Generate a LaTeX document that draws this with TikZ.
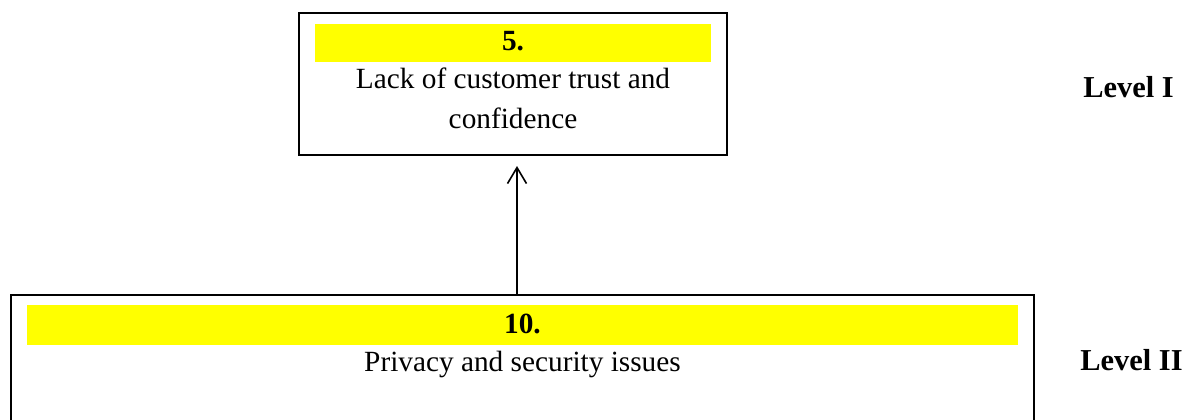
\documentclass[tikz,border=0pt]{standalone}
\usepackage{fontspec}
\setmainfont{Liberation Serif}
\usetikzlibrary{arrows.meta}
\definecolor{hl}{RGB}{255,255,0}
\tikzset{
  box/.style={draw=black, line width=0.6pt, inner sep=0pt},
  band/.style={fill=hl, draw=none, inner sep=0pt},
  txt/.style={font=\fontsize{14.65}{20}\selectfont, inner sep=0pt, anchor=base, align=center},
  num/.style={font=\fontsize{14.65}{20}\selectfont\bfseries, inner sep=0pt, anchor=base},
  lvl/.style={font=\fontsize{15.2}{18}\selectfont\bfseries, inner sep=0pt, anchor=base west},
  conn/.style={line width=0.8pt, -{Straight Barb[length=8pt,width=9.5pt,line width=0.8pt]}}
}
\begin{document}
\begin{tikzpicture}[x=0.5pt,y=-0.5pt]
\useasboundingbox (0,0) rectangle (1196,419);
\clip (0,0) rectangle (1196,419);
% top box
\node[box, minimum width=214pt, minimum height=71pt] (top) at (513,84) {};
\node[band, minimum width=198pt, minimum height=19pt] (topband) at (513,43) {};
\node[num] (topnum) at (513,50) {5.};
\node[txt] (toptxt1) at (513,88) {Lack of customer trust and};
\node[txt] (toptxt2) at (513,128) {confidence};
% bottom box
\node[box, minimum width=511.5pt, minimum height=75pt] (bot) at (522.5,370) {};
\node[band, minimum width=495.5pt, minimum height=20pt] (botband) at (522.5,325) {};
\node[num] (botnum) at (522.5,333) {10.};
\node[txt] (bottxt) at (522.5,371) {Privacy and security issues};
% levels
\node[lvl] (lvl1) at (1083,97) {Level I};
\node[lvl] (lvl2) at (1080,370) {Level II};
% connector
\coordinate (arrstart) at (517,295);
\coordinate (arrend) at (517,166);
\draw[conn] (arrstart) -- (arrend);
\end{tikzpicture}
\end{document}
